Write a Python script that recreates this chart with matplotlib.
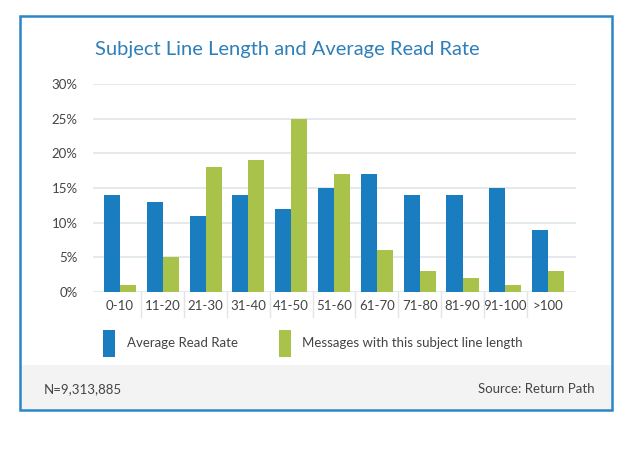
import matplotlib
matplotlib.use("Agg")
import matplotlib.pyplot as plt
from matplotlib.patches import Rectangle
import numpy as np

# chart data
categories = ["0-10", "11-20", "21-30", "31-40", "41-50", "51-60",
              "61-70", "71-80", "81-90", "91-100", ">100"]
read_rate = [14, 13, 11, 14, 12, 15, 17, 14, 14, 15, 9]
messages = [1, 5, 18, 19, 25, 17, 6, 3, 2, 1, 3]
y_ticks = [0, 5, 10, 15, 20, 25, 30]

title = "Subject Line Length and Average Read Rate"
legend_labels = ["Average Read Rate", "Messages with this subject line length"]
footer_left = "N=9,313,885"
footer_right = "Source: Return Path"

BLUE = "#1a7dbf"
GREEN = "#a8c24a"
TEXT = "#444444"
GRID = "#dfe5e8"

plt.rcParams['font.family'] = ['Lato', 'DejaVu Sans']

W, H = 640, 449
fig = plt.figure(figsize=(W / 100, H / 100), dpi=100)
fig.patch.set_facecolor("white")

def fx(px):
    return px / W

def fy(py):
    return 1 - py / H

# footer band and outer border
fig.patches.append(Rectangle((fx(20), fy(410)), fx(612) - fx(20), fy(365) - fy(410),
                             transform=fig.transFigure, facecolor="#f3f3f3",
                             edgecolor="none", zorder=0))
fig.patches.append(Rectangle((fx(20), fy(410)), fx(612) - fx(20), fy(16) - fy(410),
                             transform=fig.transFigure, facecolor="none",
                             edgecolor="#2a86c4", lw=1.8, zorder=5))

ax = fig.add_axes([fx(93), fy(292), fx(576) - fx(93), fy(84) - fy(292)])
ax.set_facecolor("none")

x = np.arange(len(categories))
bw = 0.375
ax.bar(x - bw / 2, read_rate, bw, color=BLUE, zorder=3)
ax.bar(x + bw / 2, messages, bw, color=GREEN, zorder=3)

ax.set_xlim(-0.63, len(categories) - 1 + 0.65)
ax.set_ylim(0, 30)
ax.set_yticks(y_ticks)
ax.set_yticklabels([f"{t}%" for t in y_ticks])
ax.yaxis.grid(True, color=GRID, lw=1.2, zorder=0)
ax.set_axisbelow(True)
for s in ax.spines.values():
    s.set_visible(False)
ax.tick_params(axis="y", length=0, pad=11, labelsize=9.5, labelcolor=TEXT)
ax.set_xticks(x)
ax.set_xticklabels(categories)
ax.tick_params(axis="x", length=0, pad=6, labelsize=9.5, labelcolor=TEXT)

# separators between category labels
for xi in x[:-1] + 0.5:
    ax.plot([xi, xi], [0, -3.6], color=GRID, lw=1, clip_on=False)

fig.text(fx(95), fy(50), title, color="#2f7fb8", fontsize=14.5,
         va="center", ha="left", fontweight="normal")

# legend
fig.patches.append(Rectangle((fx(103), fy(357)), fx(12), fy(330) - fy(357),
                             transform=fig.transFigure, facecolor=BLUE))
fig.text(fx(127), fy(343), legend_labels[0], color=TEXT, fontsize=9.5, va="center")
fig.patches.append(Rectangle((fx(279), fy(357)), fx(12), fy(330) - fy(357),
                             transform=fig.transFigure, facecolor=GREEN))
fig.text(fx(302), fy(343), legend_labels[1], color=TEXT, fontsize=9.5, va="center")

fig.text(fx(44), fy(389), footer_left, color=TEXT, fontsize=9.5, va="center")
fig.text(fx(595), fy(389), footer_right, color=TEXT, fontsize=9.5, va="center", ha="right")

fig.savefig("out.png", dpi=100)
